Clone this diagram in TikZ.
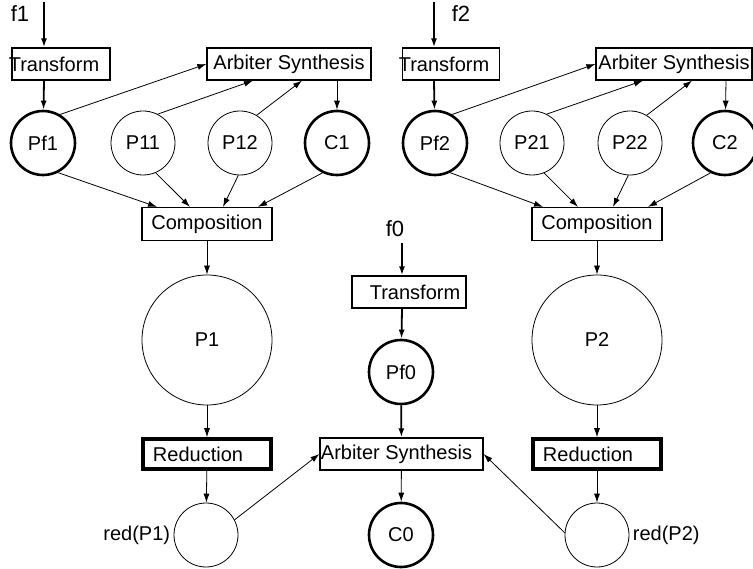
\documentclass[tikz,border=0pt]{standalone}
\usepackage{fontspec}
\setmainfont{Liberation Sans}
\usetikzlibrary{arrows.meta}

\begin{document}
\begin{tikzpicture}
[x=1pt, y=-1pt, font=\fontsize{20}{22}\selectfont, >={Latex[length=9pt,width=6pt]}]
\tikzstyle{place}=[circle, draw, line width=0.8pt, inner sep=0mm, minimum size=64pt]
\tikzstyle{held}=[place, line width=2.6pt]
\tikzstyle{trans}=[rectangle, draw, line width=1.2pt, inner sep=0mm, minimum height=32pt]
\tikzstyle{input}=[font=\fontsize{22}{24}\selectfont]
\tikzstyle{arc}=[->, line width=0.8pt]
\tikzstyle{bold arc}=[->, line width=1.8pt]
\useasboundingbox (0,0) rectangle (753,569);

% left branch
\node[input]	(f1)	at (20,14)	{f1};
\coordinate		(in1)	at (44,2);
\node[trans, minimum width=98pt]	(Tr1)	at (61,64)	{\hspace*{-14pt}Transform};
\node[trans, minimum width=164pt]	(AS1)	at (289,64)	{Arbiter Synthesis};
\node[held]		(Pf1)	at (43,143)	{Pf1};
\node[place]	(P11)	at (143,143)	{P11};
\node[place]	(P12)	at (240,143)	{P12};
\node[held]		(C1)	at (337,143)	{C1};
\node[trans, minimum width=130pt, minimum height=33pt]	(Comp1)	at (207,224)	{Composition};
\node[place, minimum size=130pt]	(P1)	at (207,340)	{P1};
\node[trans, line width=3.5pt, minimum width=128pt, minimum height=30pt]	(Red1)	at (207,454)	{\hspace*{-18pt}Reduction};
\node[place, label=left:{red(P1)}]	(rP1)	at (206,535)	{};

% right branch
\node[input]	(f2)	at (461,14)	{f2};
\coordinate		(in2)	at (434,2);
\node[trans, minimum width=97pt]	(Tr2)	at (451,64)	{\hspace*{-14pt}Transform};
\node[trans, minimum width=156pt]	(AS2)	at (674,64)	{Arbiter Synthesis};
\node[held]		(Pf2)	at (435,143)	{Pf2};
\node[place]	(P21)	at (532,143)	{P21};
\node[place]	(P22)	at (630,143)	{P22};
\node[held]		(C2)	at (725,143)	{C2};
\node[trans, minimum width=130pt, minimum height=33pt]	(Comp2)	at (597,224)	{Composition};
\node[place, minimum size=130pt]	(P2)	at (597,340)	{P2};
\node[trans, line width=3.5pt, minimum width=128pt, minimum height=30pt]	(Red2)	at (597,454)	{\hspace*{-18pt}Reduction};
\node[place, label=right:{red(P2)}]	(rP2)	at (597,535)	{};

% middle branch
\node[input]	(f0)	at (395,229)	{f0};
\coordinate		(in0)	at (402,243);
\node[trans, minimum width=114pt]	(Tr0)	at (409,292)	{Transform\hspace*{-12pt}};
\node[held]		(Pf0)	at (401,372)	{Pf0};
\node[trans, minimum width=163pt]	(AS0)	at (401.5,454)	{\hspace*{-10pt}Arbiter Synthesis};
\node[held]		(C0)	at (401,535)	{C0};

\draw[bold arc]	(in1) -- ([xshift=-17pt]Tr1.north);
\draw[bold arc]	([xshift=-17pt]Tr1.south) -- (Pf1);
\draw[arc]	(Pf1.59) -- (AS1.west);
\draw[arc]	(P11.63) -- ([xshift=-36pt]AS1.south);
\draw[arc]	(P12.59) -- ([xshift=13pt]AS1.south);
\draw[arc]	([xshift=48pt]AS1.south) -- (C1);
\draw[arc]	(Pf1.-63) -- ([xshift=-50pt]Comp1.north);
\draw[arc]	(P11.-67) -- ([xshift=-17pt]Comp1.north);
\draw[arc]	(P12.-93) -- ([xshift=16pt]Comp1.north);
\draw[arc]	(C1.-116) -- ([xshift=51pt]Comp1.north);
\draw[arc]	(Comp1) -- (P1);
\draw[arc]	(P1) -- (Red1);
\draw[arc]	(Red1) -- (rP1);

\draw[bold arc]	(in2) -- ([xshift=-17pt]Tr2.north);
\draw[bold arc]	([xshift=-17pt]Tr2.south) -- (Pf2);
\draw[arc]	(Pf2.59) -- (AS2.west);
\draw[arc]	(P21.63) -- ([xshift=-31pt]AS2.south);
\draw[arc]	(P22.59) -- ([xshift=18pt]AS2.south);
\draw[arc]	([xshift=52pt]AS2.south) -- (C2);
\draw[arc]	(Pf2.-63) -- ([xshift=-54pt]Comp2.north);
\draw[arc]	(P21.-68) -- ([xshift=-19pt]Comp2.north);
\draw[arc]	(P22.-93) -- ([xshift=16pt]Comp2.north);
\draw[arc]	(C2.-116) -- ([xshift=51pt]Comp2.north);
\draw[arc]	(Comp2) -- (P2);
\draw[arc]	(P2) -- (Red2);
\draw[arc]	(Red2) -- (rP2);

\draw[bold arc]	(in0) -- ([xshift=-7pt]Tr0.north);
\draw[bold arc]	([xshift=-7pt]Tr0.south) -- (Pf0);
\draw[bold arc]	(Pf0) -- (AS0);
\draw[arc]	(AS0) -- (C0);
\draw[arc]	(rP1.28) -- (AS0.west);
\draw[arc]	(rP2.176) -- (AS0.east);
\end{tikzpicture}
\end{document}
